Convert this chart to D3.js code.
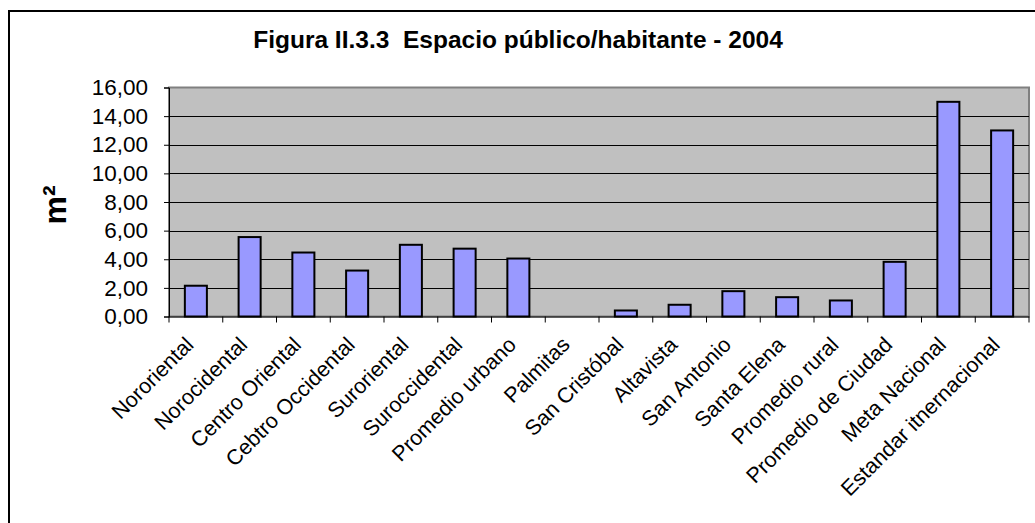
<!DOCTYPE html>
<html>
<head>
<meta charset="utf-8">
<script src="https://cdn.jsdelivr.net/npm/d3@7"></script>
<style>
  body { margin: 0; background: #fff; }
  svg text { font-family: Arial, "Liberation Sans", sans-serif; fill: #000; }
</style>
</head>
<body>
<svg width="1035" height="523"></svg>
<script>
// data
var categories = ["Nororiental", "Norocidental", "Centro Oriental", "Cebtro Occidental",
  "Suroriental", "Suroccidental", "Promedio urbano", "Palmitas", "San Cristóbal",
  "Altavista", "San Antonio", "Santa Elena", "Promedio rural", "Promedio de Ciudad",
  "Meta Nacional", "Estandar itnernacional"];
var values = [2.15, 5.55, 4.47, 3.21, 5.01, 4.74, 4.05, 0, 0.42, 0.82, 1.77, 1.35, 1.12, 3.82, 15.0, 13.0];
var yTicks = [0, 2, 4, 6, 8, 10, 12, 14, 16];
var title = "Figura II.3.3\u00a0\u00a0Espacio público/habitante - 2004";
var yLabel = "m²";

var svg = d3.select("svg");

// outer frame (runs off right and bottom)
svg.append("path")
   .attr("d", "M9,523 V11 H1035")
   .attr("fill", "none")
   .attr("stroke", "#000")
   .attr("stroke-width", 2);

var plotL = 169, plotR = 1029, plotT = 87.5, plotB = 316.5;

var x = d3.scaleBand().domain(categories).range([plotL, plotR])
          .paddingInner(0.59).paddingOuter(0.295);
var y = d3.scaleLinear().domain([0, 16]).range([plotB, plotT]);

// plot background
svg.append("rect")
   .attr("x", plotL).attr("y", plotT)
   .attr("width", plotR - plotL).attr("height", plotB - plotT)
   .attr("fill", "#c0c0c0")
   .attr("stroke", "#808080")
   .attr("stroke-width", 2);

// gridlines
svg.append("g")
   .selectAll("line")
   .data(yTicks.filter(function(d) { return d > 0 && d < 16; }))
   .enter().append("line")
   .attr("x1", plotL).attr("x2", plotR)
   .attr("y1", function(d) { return Math.round(y(d)) + 0.5; })
   .attr("y2", function(d) { return Math.round(y(d)) + 0.5; })
   .attr("stroke", "#000")
   .attr("stroke-width", 1);

// bars
svg.append("g")
   .selectAll("rect")
   .data(values)
   .enter().append("rect")
   .attr("x", function(d, i) { return x(categories[i]); })
   .attr("y", function(d) { return y(d); })
   .attr("width", x.bandwidth())
   .attr("height", function(d) { return plotB - y(d); })
   .attr("fill", "#9999ff")
   .attr("stroke", "#000")
   .attr("stroke-width", 2)
   .style("display", function(d) { return d > 0 ? null : "none"; });

// y axis
var fmt = function(d) { return d3.format(".2f")(d).replace(".", ","); };
var yAxis = svg.append("g")
   .attr("transform", "translate(" + plotL + ",0)")
   .call(d3.axisLeft(y).tickValues(yTicks).tickFormat(fmt).tickSize(5).tickPadding(16));
yAxis.select(".domain").attr("stroke", "#000");
yAxis.selectAll("text").attr("font-size", "22.5px").attr("font-family", "Arial, 'Liberation Sans', sans-serif");

// x axis with ticks at band edges
var step = x.step();
var edges = d3.range(categories.length + 1).map(function(i) { return plotL + i * step; });
svg.append("line")
   .attr("x1", plotL).attr("x2", plotR)
   .attr("y1", plotB + 0.5).attr("y2", plotB + 0.5)
   .attr("stroke", "#000");
svg.append("g")
   .selectAll("line")
   .data(edges)
   .enter().append("line")
   .attr("x1", function(d) { return d; }).attr("x2", function(d) { return d; })
   .attr("y1", plotB).attr("y2", plotB + 6)
   .attr("stroke", "#000");

svg.append("g")
   .selectAll("text")
   .data(categories)
   .enter().append("text")
   .attr("transform", function(d) {
     return "translate(" + (x(d) + x.bandwidth() / 2 - 1) + "," + 346 + ") rotate(-45)";
   })
   .attr("text-anchor", "end")
   .attr("font-size", "21.5px")
   .text(function(d) { return d; });

// title
svg.append("text")
   .attr("x", 518).attr("y", 48)
   .attr("text-anchor", "middle")
   .attr("font-size", "24.5px")
   .attr("font-weight", "bold")
   .text(title);

// y label
svg.append("text")
   .attr("transform", "translate(66,205) rotate(-90)")
   .attr("text-anchor", "middle")
   .attr("font-size", "32px")
   .attr("font-weight", "bold")
   .text(yLabel);
</script>
</body>
</html>
